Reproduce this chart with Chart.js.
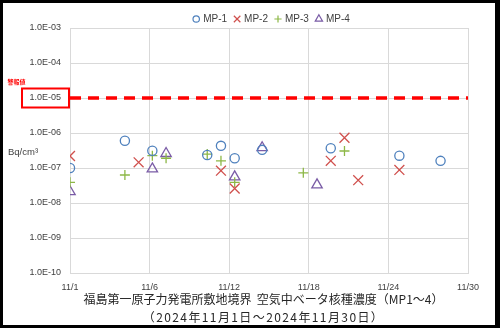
<!DOCTYPE html>
<html>
<head>
<meta charset="utf-8">
<script src="https://cdn.jsdelivr.net/npm/chart.js@4.4.1/dist/chart.umd.min.js"></script>
<style>
  html, body { margin: 0; padding: 0; background: #fff; }
  canvas { display: block; }
</style>
</head>
<body>
<canvas id="chart" width="500" height="328"></canvas>
<script>
// Sampling days (day of November 2024) and concentrations in Bq/cm3
const seriesNames = ['MP-1', 'MP-2', 'MP-3', 'MP-4'];
const mp1Days   = [1, 5, 7, 11, 12, 13, 15, 20, 25, 28];
const mp1Values = [1.0e-7, 6.0e-7, 3.1e-7, 2.35e-7, 4.3e-7, 1.9e-7, 3.3e-7, 3.65e-7, 2.25e-7, 1.6e-7];
const mp2Days   = [1, 6, 12, 13, 20, 21, 22, 25];
const mp2Values = [2.2e-7, 1.45e-7, 8.4e-8, 2.6e-8, 1.6e-7, 7.3e-7, 4.5e-8, 8.8e-8];
const mp3Days   = [1, 5, 7, 8, 11, 12, 13, 18, 21];
const mp3Values = [3.9e-8, 6.3e-8, 2.25e-7, 1.9e-7, 2.5e-7, 1.6e-7, 3.9e-8, 7.3e-8, 3.06e-7];
const mp4Days   = [1, 7, 8, 13, 15, 19];
const mp4Values = [2.1e-8, 9.4e-8, 2.6e-7, 5.6e-8, 3.8e-7, 3.3e-8];

// Alarm level
const warningLabel = '警報値';
const warningLevel = 1e-5;

// Axis ticks
const xTickDays   = [1, 6.8, 12.6, 18.4, 24.2, 30];
const xTickLabels = ['11/1', '11/6', '11/12', '11/18', '11/24', '11/30'];
const yTickValues = [1e-10, 1e-9, 1e-8, 1e-7, 1e-6, 1e-5, 1e-4, 1e-3];
const yTickLabels = ['1.0E-10', '1.0E-09', '1.0E-08', '1.0E-07', '1.0E-06', '1.0E-05', '1.0E-04', '1.0E-03'];
const unitLabel = 'Bq/cm³';

const titleLines = [
  '福島第一原子力発電所敷地境界  空気中ベータ核種濃度（MP1～4）',
  '（2024年11月1日～2024年11月30日）'
];

const COLORS = ['#4F81BD', '#D0504D', '#8DB847', '#7A5CA6'];
const STYLES = ['circle', 'crossRot', 'cross', 'triangle'];
const RADII = [4.6, 7, 5, 6];
const LEGEND_RADII = [3.2, 4.6, 3.6, 4.2];
const LATIN = '"Liberation Sans", Arial, sans-serif';
const CJK = '"Noto Sans CJK JP", "Noto Sans", sans-serif';
const TEXT = '#404040';
const GRID = '#D9D9D9';

const toPoints = (days, vals) => days.map((d, i) => ({ x: d, y: vals[i] }));
const seriesData = [
  toPoints(mp1Days, mp1Values),
  toPoints(mp2Days, mp2Values),
  toPoints(mp3Days, mp3Values),
  toPoints(mp4Days, mp4Values)
];

const datasets = seriesNames.map((name, i) => ({
  label: name,
  data: seriesData[i],
  pointStyle: STYLES[i],
  pointRadius: RADII[i],
  pointHoverRadius: RADII[i],
  pointBorderWidth: 1.3,
  pointBorderColor: COLORS[i],
  pointBackgroundColor: 'rgba(0,0,0,0)',
  borderColor: COLORS[i],
  backgroundColor: 'rgba(0,0,0,0)'
}));

datasets.push({
  type: 'line',
  label: warningLabel,
  data: [{ x: xTickDays[0], y: warningLevel }, { x: xTickDays[xTickDays.length - 1], y: warningLevel }],
  borderColor: '#FF0000',
  borderWidth: 3.5,
  borderDash: [11, 7],
  pointRadius: 0,
  fill: false
});

// White sheet with a black outline around the whole chart
const framePlugin = {
  id: 'frame',
  beforeDraw(chart) {
    const { ctx, width, height } = chart;
    ctx.save();
    ctx.fillStyle = '#000';
    ctx.fillRect(0, 0, width, height);
    ctx.fillStyle = '#fff';
    ctx.fillRect(3, 3, width - 8, height - 6);
    ctx.restore();
  }
};

// Series key along the top
const keyPlugin = {
  id: 'seriesKey',
  afterDraw(chart) {
    const { ctx, chartArea } = chart;
    ctx.save();
    ctx.font = '10px ' + LATIN;
    const gapMarkerText = 7, gapItems = 10;
    const widths = seriesNames.map(n => ctx.measureText(n).width);
    let total = 0;
    widths.forEach((w, i) => { total += gapMarkerText + w + (i < widths.length - 1 ? gapItems : 0); });
    let x = (chartArea.left + chartArea.right) / 2 + 4 - total / 2;
    const y = 19;
    seriesNames.forEach((name, i) => {
      ctx.strokeStyle = COLORS[i];
      ctx.fillStyle = 'rgba(0,0,0,0)';
      ctx.lineWidth = 1.2;
      Chart.helpers.drawPoint(ctx, { pointStyle: STYLES[i], radius: LEGEND_RADII[i], borderWidth: 1.2, rotation: 0 }, x, y);
      ctx.fillStyle = TEXT;
      ctx.textAlign = 'left';
      ctx.textBaseline = 'middle';
      ctx.fillText(name, x + gapMarkerText, y);
      x += gapMarkerText + widths[i] + gapItems;
    });
    ctx.restore();
  }
};

// Unit label, boxed alarm level on the value axis, and the two-line caption
const markupPlugin = {
  id: 'markup',
  afterDraw(chart) {
    const { ctx, chartArea } = chart;
    const yScale = chart.scales.y;
    const wy = yScale.getPixelForValue(warningLevel);
    ctx.save();
    ctx.strokeStyle = '#FF0000';
    ctx.lineWidth = 2;
    ctx.strokeRect(22, wy - 9.5, chartArea.left - 23, 19);
    ctx.fillStyle = '#FF0000';
    ctx.font = 'bold 6px ' + CJK;
    ctx.textAlign = 'center';
    ctx.textBaseline = 'middle';
    ctx.fillText(warningLabel, 16.5, wy - 16);

    ctx.fillStyle = TEXT;
    ctx.font = '9.5px ' + LATIN;
    ctx.textAlign = 'left';
    ctx.fillText(unitLabel, 8, yScale.getPixelForValue(3e-7) + 1);

    const cx = (chartArea.left + chartArea.right) / 2 - 5.5;
    ctx.fillStyle = '#262626';
    ctx.font = '12px ' + CJK;
    ctx.textAlign = 'center';
    ctx.fillText(titleLines[0], cx, chartArea.bottom + 26.5);
    ctx.letterSpacing = '1.4px';
    ctx.fillText(titleLines[1], cx, chartArea.bottom + 44);
    ctx.letterSpacing = '0px';
    ctx.restore();
  }
};

new Chart(document.getElementById('chart'), {
  type: 'scatter',
  data: { datasets },
  options: {
    responsive: false,
    animation: false,
    devicePixelRatio: 1,
    layout: { padding: { top: 28, right: 32, bottom: 37.25, left: 0 } },
    plugins: {
      legend: { display: false },
      tooltip: { enabled: false },
      title: { display: false }
    },
    scales: {
      x: {
        type: 'linear',
        min: xTickDays[0],
        max: xTickDays[xTickDays.length - 1],
        afterBuildTicks(scale) { scale.ticks = xTickDays.map(v => ({ value: v })); },
        afterFit(scale) { scale.height = 17.75; },
        grid: { color: GRID, lineWidth: 1, drawTicks: false },
        border: { color: GRID, width: 1 },
        ticks: {
          autoSkip: false, maxRotation: 0, padding: 9,
          color: TEXT, font: { family: LATIN, size: 9 },
          callback: (v, i) => xTickLabels[i]
        }
      },
      y: {
        type: 'logarithmic',
        min: yTickValues[0],
        max: yTickValues[yTickValues.length - 1],
        afterBuildTicks(scale) { scale.ticks = yTickValues.map(v => ({ value: v })); },
        afterFit(scale) { scale.width = 70; },
        grid: { color: GRID, lineWidth: 1, drawTicks: false },
        border: { color: GRID, width: 1 },
        ticks: {
          autoSkip: false, padding: 9,
          color: TEXT, font: { family: LATIN, size: 9 },
          callback: (v, i) => yTickLabels[i]
        }
      }
    }
  },
  plugins: [framePlugin, keyPlugin, markupPlugin]
});
</script>
</body>
</html>
